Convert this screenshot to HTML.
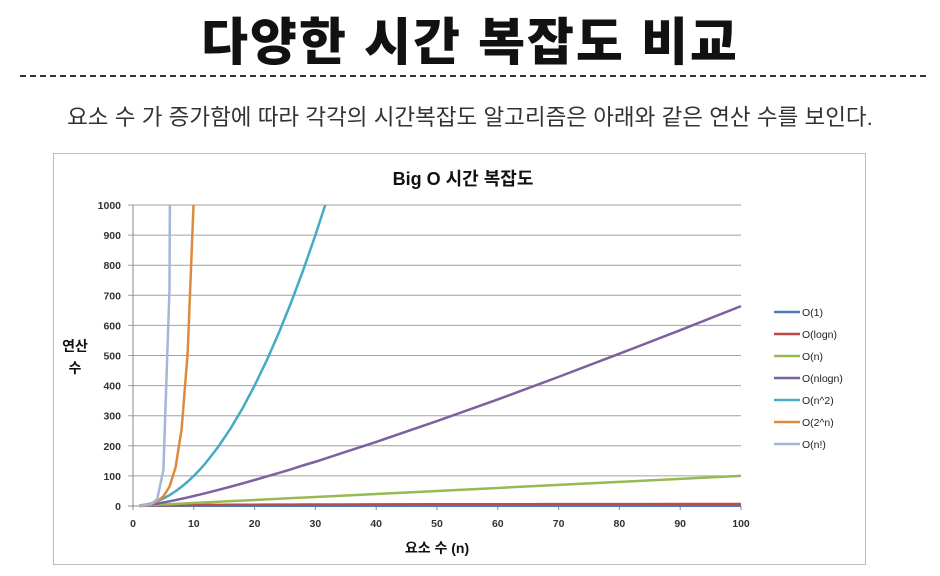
<!DOCTYPE html>
<html><head><meta charset="utf-8"><style>
body{margin:0;background:#fff;width:940px;height:576px;overflow:hidden;font-family:"Liberation Sans","Noto Sans CJK KR",sans-serif}
#t{position:absolute;left:0;width:940px;top:1px;text-align:center;font-size:51px;font-weight:900;color:#111;letter-spacing:2px}
#d{position:absolute;left:20px;top:75px;width:906px;border-top:2px dashed #333}
#s{position:absolute;left:0;width:940px;top:100px;text-align:center;font-size:22.5px;color:#333}
svg{position:absolute;left:0;top:0}
</style></head><body>
<div id="t">다양한 시간 복잡도 비교</div>
<div id="d"></div>
<div id="s">요소 수 가 증가함에 따라 각각의 시간복잡도 알고리즘은 아래와 같은 연산 수를 보인다.</div>
<svg id="c" width="940" height="576"></svg>
<script>
const nVals=[1,2,3,4,5,6,7,8,9,10,11,12,14,16,18,20,22,24,26,28,30,32,35,40,50,60,70,80,90,100];
const sConst=[1,1,1,1,1,1,1,1,1,1,1,1,1,1,1,1,1,1,1,1,1,1,1,1,1,1,1,1,1,1];
const sLog=[0,1,1.58,2,2.32,2.58,2.81,3,3.17,3.32,3.46,3.58,3.81,4,4.17,4.32,4.46,4.58,4.7,4.81,4.91,5,5.13,5.32,5.64,5.91,6.13,6.32,6.49,6.64];
const sLin=[1,2,3,4,5,6,7,8,9,10,11,12,14,16,18,20,22,24,26,28,30,32,35,40,50,60,70,80,90,100];
const sNlog=[0,2,4.75,8,11.6,15.5,19.7,24,28.5,33.2,38.1,43,53.3,64,75.1,86.4,98.1,110,122,135,147,160,180,213,282,354,429,506,584,664];
const sSq=[1,4,9,16,25,36,49,64,81,100,121,144,196,256,324,400,484,576,676,784,900,1024,1225,1600,2500,3600,4900,6400,8100,10000];
const sExp=[2,4,8,16,32,64,128,256,512,1024,2048,4096,16384,65536,262144,1048576,4e6,1.7e7,6.7e7,2.7e8,1e9,4e9,3e10,1e12,1e15,1e18,1e21,1e24,1e27,1e30];
const sFact=[1,2,6,24,120,720,5040,40320,362880,3628800,4e7,4.8e8,8.7e10,2e13,6.4e15,2.4e18,1.1e21,6e23,4e26,3e29,2.6e32,2.6e35,1e40,8e47,3e64,8e81,1e100,7e118,1e138,9e157];
const yTicks=[0,100,200,300,400,500,600,700,800,900,1000];
const xTicks=[0,10,20,30,40,50,60,70,80,90,100];
const seriesNames=["O(1)","O(logn)","O(n)","O(nlogn)","O(n^2)","O(2^n)","O(n!)"];
const seriesData=[sConst,sLog,sLin,sNlog,sSq,sExp,sFact];
const colors=["#4a7ebb","#be4b48","#98b954","#7d60a0","#46aac5","#dd8a3f","#a5b6db"];
const X=v=>133+v*6.08, Y=v=>506-v*0.301;
const svg=document.getElementById('c'),NS='http://www.w3.org/2000/svg';
function mk(t,a,p){const e=document.createElementNS(NS,t);for(const k in a)e.setAttribute(k,a[k]);(p||svg).appendChild(e);return e;}
let e=mk('rect',{x:53.5,y:153.5,width:812,height:411,fill:'#fff',stroke:'#bbb'});


e=mk('text',{x:463,y:185,'text-anchor':'middle','font-size':18,'font-weight':'bold',fill:'#111'});e.textContent='Big O 시간 복잡도';


yTicks.forEach(v=>{
 e=mk('line',{x1:128,x2:741,y1:Y(v),y2:Y(v),stroke:v?'#a0a0a0':'#888','stroke-width':1});
 
 
 e=mk('text',{x:121,y:Y(v)+4,'text-anchor':'end','font-size':10.5,'font-weight':'bold',fill:'#333'});e.textContent=v;
 
 
});
e=mk('line',{x1:133,x2:133,y1:Y(1000),y2:Y(0)+4,stroke:'#888'});


xTicks.forEach(v=>{
 e=mk('line',{x1:X(v),x2:X(v),y1:Y(0),y2:Y(0)+4,stroke:'#888'});
 
 
 e=mk('text',{x:X(v),y:527,'text-anchor':'middle','font-size':10.5,'font-weight':'bold',fill:'#333'});e.textContent=v;
 
 
});
e=mk('text',{x:437,y:553,'text-anchor':'middle','font-size':14,'font-weight':'bold',fill:'#111'});e.textContent='요소 수 (n)';


e=mk('text',{x:75,y:351,'text-anchor':'middle','font-size':14,'font-weight':'bold',fill:'#111'});e.textContent='연산';


e=mk('text',{x:75,y:373,'text-anchor':'middle','font-size':14,'font-weight':'bold',fill:'#111'});e.textContent='수';


const defs=mk('defs',{});const cp=mk('clipPath',{id:'pc'},defs);mk('rect',{x:133,y:Y(1000),width:620,height:Y(0)-Y(1000)+3},cp);
const g=mk('g',{'clip-path':'url(#pc)'});
seriesData.forEach((s,i)=>{
 const pts=s.map((v,j)=>X(nVals[j])+','+Y(Math.min(v,1e5))).join(' ');
 e=mk('polyline',{points:pts,fill:'none',stroke:colors[i],'stroke-width':2.5,'stroke-linejoin':'round'},g);
 
 
 const ly=312+i*22;
 e=mk('line',{x1:774,x2:800,y1:ly,y2:ly,stroke:colors[i],'stroke-width':2.5});
 
 
 e=mk('text',{x:802,y:ly+4,'font-size':10.5,fill:'#222'});e.textContent=seriesNames[i];
 
 
});
</script>
</body></html>
